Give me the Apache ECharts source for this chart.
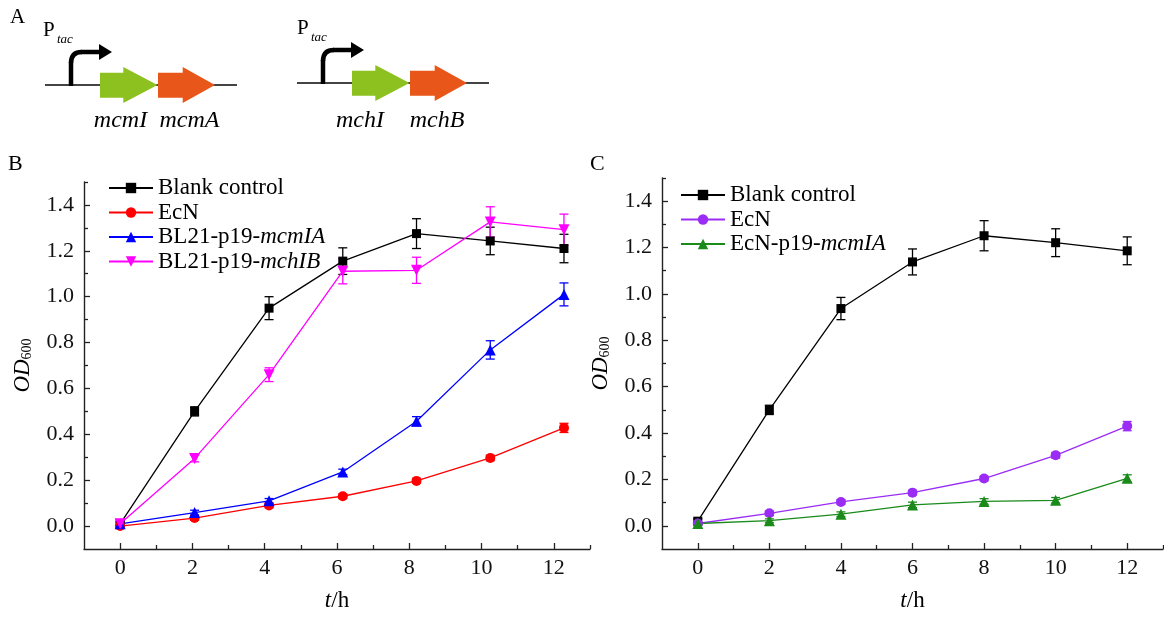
<!DOCTYPE html>
<html>
<head>
<meta charset="utf-8">
<script src="https://cdn.jsdelivr.net/npm/echarts@6/dist/echarts.min.js"></script>
<style>
  html, body { margin: 0; padding: 0; background: #fff; }
  #main { width: 1164px; height: 617px; }
</style>
</head>
<body>
<div id="main"></div>
<script>
// ---- data ----
var hoursB = [0, 2.06, 4.12, 6.16, 8.2, 10.24, 12.28];
var hoursC = [0, 2, 4, 6, 8, 10, 12];

var blankB = [0.01, 0.50, 0.95, 1.155, 1.275, 1.243, 1.21];
var blankBErr = [0.01, 0.02, 0.05, 0.058, 0.065, 0.06, 0.062];
var ecnB = [0.0, 0.035, 0.09, 0.13, 0.197, 0.297, 0.428];
var ecnBErr = [0.005, 0.01, 0.01, 0.01, 0.01, 0.012, 0.02];
var mcmIAB = [0.01, 0.059, 0.11, 0.236, 0.457, 0.768, 1.01];
var mcmIABErr = [0.005, 0.01, 0.01, 0.012, 0.02, 0.04, 0.05];
var mchIBB = [0.01, 0.295, 0.66, 1.111, 1.115, 1.326, 1.292];
var mchIBBErr = [0.005, 0.015, 0.03, 0.055, 0.057, 0.066, 0.068];

var blankC = [0.02, 0.50, 0.937, 1.138, 1.251, 1.221, 1.186];
var blankCErr = [0.01, 0.02, 0.048, 0.056, 0.065, 0.06, 0.06];
var ecnC = [0.01, 0.054, 0.103, 0.143, 0.204, 0.304, 0.43];
var ecnCErr = [0.005, 0.01, 0.01, 0.01, 0.01, 0.012, 0.02];
var mcmIAC = [0.01, 0.022, 0.05, 0.09, 0.105, 0.11, 0.205];
var mcmIACErr = [0.005, 0.008, 0.01, 0.012, 0.012, 0.012, 0.015];

var xTicks = [0, 2, 4, 6, 8, 10, 12];
var xMinorTicks = [1, 3, 5, 7, 9, 11, 13];
var yTicks = [0, 0.2, 0.4, 0.6, 0.8, 1.0, 1.2, 1.4];
var yMinorTicks = [0.1, 0.3, 0.5, 0.7, 0.9, 1.1, 1.3, 1.5];

var geneLabels = [['mcmI', 'mcmA'], ['mchI', 'mchB']];

var FONT = '"Liberation Serif", "Times New Roman", serif';
var AXIS = '#222';

var dom = document.getElementById('main');
var myChart = echarts.init(dom, null, { renderer: 'canvas' });

function legendFmt(name) {
    name = name.trim();
    var k = name.indexOf('-p19-');
    if (k < 0) return '{n|' + name + '}';
    return '{n|' + name.slice(0, k + 5) + '}{i|' + name.slice(k + 5) + '}';
}

function lineSeries(name, color, symbol, rotate, size, xs, ys, ax) {
    return {
        type: 'line', name: name, xAxisIndex: ax, yAxisIndex: ax,
        data: xs.map(function (x, i) { return [x, ys[i]]; }),
        symbol: symbol, symbolRotate: rotate, symbolSize: size,
        showAllSymbol: true, z: 3,
        lineStyle: { color: color, width: 1.3 },
        itemStyle: { color: color, borderWidth: 0 }
    };
}

function errSeries(color, xs, ys, errs, ax) {
    return {
        type: 'custom', xAxisIndex: ax, yAxisIndex: ax, z: 2, silent: true,
        data: xs.map(function (x, i) { return [x, ys[i], errs[i]]; }),
        encode: { x: 0, y: 1 },
        renderItem: function (params, api) {
            var x = api.value(0), y = api.value(1), e = api.value(2);
            var top = api.coord([x, y + e]), bot = api.coord([x, y - e]);
            var w = 4.5;
            var st = { stroke: color, lineWidth: 1.3 };
            return {
                type: 'group', children: [
                    { type: 'line', shape: { x1: top[0], y1: top[1], x2: bot[0], y2: bot[1] }, style: st },
                    { type: 'line', shape: { x1: top[0] - w, y1: top[1], x2: top[0] + w, y2: top[1] }, style: st },
                    { type: 'line', shape: { x1: bot[0] - w, y1: bot[1], x2: bot[0] + w, y2: bot[1] }, style: st }
                ]
            };
        }
    };
}

function mainX(grid) {
    return {
        type: 'value', gridIndex: grid, min: -1, max: 13, position: 'bottom',
        name: '{i|t}{n|/h}', nameLocation: 'middle', nameGap: 40,
        nameTextStyle: {
            rich: {
                i: { fontFamily: FONT, fontSize: 23, fontStyle: 'italic', color: '#000' },
                n: { fontFamily: FONT, fontSize: 23, color: '#000' }
            }
        },
        axisLine: { onZero: false, lineStyle: { color: AXIS, width: 1.4 } },
        axisTick: { inside: true, length: 6, customValues: xTicks, lineStyle: { color: AXIS, width: 1.3 } },
        axisLabel: { customValues: xTicks, margin: 8, fontFamily: FONT, fontSize: 22, color: '#111' },
        splitLine: { show: false }
    };
}
function minorX(grid) {
    return {
        type: 'value', gridIndex: grid, min: -1, max: 13, position: 'bottom',
        axisLine: { show: false, onZero: false },
        axisTick: { inside: true, length: 4, customValues: xMinorTicks, lineStyle: { color: AXIS, width: 1.3 } },
        axisLabel: { show: false }, splitLine: { show: false }
    };
}
function mainY(grid) {
    return {
        type: 'value', gridIndex: grid, min: -0.1, max: 1.5, position: 'left',
        name: '{i|OD}{s|600}', nameLocation: 'middle', nameGap: 50,
        nameTextStyle: {
            rich: {
                i: { fontFamily: FONT, fontSize: 23, fontStyle: 'italic', color: '#000' },
                s: { fontFamily: FONT, fontSize: 14, color: '#000', verticalAlign: 'bottom', padding: [8, 0, 0, 0] }
            }
        },
        axisLine: { onZero: false, lineStyle: { color: AXIS, width: 1.4 } },
        axisTick: { inside: true, length: 6, customValues: yTicks, lineStyle: { color: AXIS, width: 1.3 } },
        axisLabel: {
            customValues: yTicks, margin: 10, fontFamily: FONT, fontSize: 22, color: '#111',
            formatter: function (v) { return v.toFixed(1); }
        },
        splitLine: { show: false }
    };
}
function minorY(grid) {
    return {
        type: 'value', gridIndex: grid, min: -0.1, max: 1.5, position: 'left',
        axisLine: { show: false, onZero: false },
        axisTick: { inside: true, length: 4, customValues: yMinorTicks, lineStyle: { color: AXIS, width: 1.3 } },
        axisLabel: { show: false }, splitLine: { show: false }
    };
}

// panel A: gene cassette schematic
function cassette(dx, dy, pdx, genes, labelX) {
    var g = '#8cc11f', o = '#e9561a';
    function sh(pts) { return pts.map(function (p) { return [p[0] + dx, p[1] + dy]; }); }
    var els = [
        { type: 'line', shape: { x1: 45 + dx, y1: 85 + dy, x2: 237 + dx, y2: 85 + dy }, style: { stroke: '#444', lineWidth: 1.8 } },
        { type: 'polyline', shape: { points: sh([[71, 86], [71, 62]]) }, style: { stroke: '#000', lineWidth: 4.5, fill: null } },
        { type: 'bezierCurve', shape: { x1: 71 + dx, y1: 63 + dy, cpx1: 71 + dx, cpy1: 52 + dy, x2: 82 + dx, y2: 52 + dy }, style: { stroke: '#000', lineWidth: 4.5, fill: null } },
        { type: 'polyline', shape: { points: sh([[81, 52], [101, 52]]) }, style: { stroke: '#000', lineWidth: 4.5, fill: null } },
        { type: 'polygon', shape: { points: sh([[99, 44], [112, 52], [99, 60]]) }, style: { fill: '#000' } },
        { type: 'polygon', shape: { points: sh([[100, 72.7], [123.3, 72.7], [123.3, 67], [157.5, 85], [123.3, 103], [123.3, 97.7], [100, 97.7]]) }, style: { fill: g } },
        { type: 'polygon', shape: { points: sh([[158, 72.7], [182.7, 72.7], [182.7, 67], [215, 85], [182.7, 103], [182.7, 97.7], [158, 97.7]]) }, style: { fill: o } },
        { type: 'text', x: 43 + pdx, y: 20 + dy, style: { text: 'P', fontFamily: FONT, fontSize: 21, fill: '#000' } },
        { type: 'text', x: 57 + pdx, y: 33 + dy, style: { text: 'tac', fontFamily: FONT, fontSize: 13, fontStyle: 'italic', fill: '#000' } }
    ];
    genes.forEach(function (name, i) {
        els.push({ type: 'text', x: labelX[i], y: 121, style: { text: name, fontFamily: FONT, fontSize: 24, fontStyle: 'italic', fill: '#000', textAlign: 'center', textVerticalAlign: 'middle' } });
    });
    return els;
}

var graphics = [
    { type: 'text', x: 10, y: 7, style: { text: 'A', fontFamily: FONT, fontSize: 21, fill: '#000' } },
    { type: 'text', x: 8, y: 153, style: { text: 'B', fontFamily: FONT, fontSize: 22, fill: '#000' } },
    { type: 'text', x: 590, y: 153, style: { text: 'C', fontFamily: FONT, fontSize: 22, fill: '#000' } }
].concat(cassette(0, 0, 0, geneLabels[0], [120.5, 189.5]))
 .concat(cassette(252, -2, 254, geneLabels[1], [360, 437]));

var legendRich = {
    n: { fontFamily: FONT, fontSize: 23, color: '#000' },
    i: { fontFamily: FONT, fontSize: 23, fontStyle: 'italic', color: '#000' }
};

var option = {
    animation: false,
    backgroundColor: '#fff',
    graphic: graphics,
    grid: [
        { left: 84, top: 182, width: 506, height: 368 },
        { left: 662, top: 178, width: 501, height: 374 }
    ],
    legend: [
        {
            orient: 'vertical', left: 103, top: 171, itemWidth: 44, itemHeight: 13, itemGap: 0.5,
            data: ['Blank control', 'EcN', 'BL21-p19-mcmIA', 'BL21-p19-mchIB'],
            formatter: legendFmt, textStyle: { lineHeight: 24, rich: legendRich }, selectedMode: false
        },
        {
            orient: 'vertical', left: 675, top: 178, itemWidth: 44, itemHeight: 13, itemGap: 0.5,
            data: ['Blank control ', 'EcN ', 'EcN-p19-mcmIA '],
            formatter: legendFmt, textStyle: { lineHeight: 24, rich: legendRich }, selectedMode: false
        }
    ],
    xAxis: [mainX(0), minorX(0), mainX(1), minorX(1)],
    yAxis: [mainY(0), minorY(0), mainY(1), minorY(1)],
    series: [
        errSeries('#000', hoursB, blankB, blankBErr, 0),
        errSeries('#ff0000', hoursB, ecnB, ecnBErr, 0),
        errSeries('#0000ff', hoursB, mcmIAB, mcmIABErr, 0),
        errSeries('#ff00ff', hoursB, mchIBB, mchIBBErr, 0),
        lineSeries('Blank control', '#000', 'rect', 0, 9, hoursB, blankB, 0),
        lineSeries('EcN', '#ff0000', 'circle', 0, 10, hoursB, ecnB, 0),
        lineSeries('BL21-p19-mcmIA', '#0000ff', 'triangle', 0, 11, hoursB, mcmIAB, 0),
        lineSeries('BL21-p19-mchIB', '#ff00ff', 'triangle', 180, 11, hoursB, mchIBB, 0),

        errSeries('#000', hoursC, blankC, blankCErr, 2),
        errSeries('#9a2cf5', hoursC, ecnC, ecnCErr, 2),
        errSeries('#1a8a1a', hoursC, mcmIAC, mcmIACErr, 2),
        lineSeries('Blank control ', '#000', 'rect', 0, 9, hoursC, blankC, 2),
        lineSeries('EcN ', '#9a2cf5', 'circle', 0, 10, hoursC, ecnC, 2),
        lineSeries('EcN-p19-mcmIA ', '#1a8a1a', 'triangle', 0, 11, hoursC, mcmIAC, 2)
    ]
};

myChart.setOption(option);
window.addEventListener('resize', function () { myChart.resize(); });
</script>
</body>
</html>
